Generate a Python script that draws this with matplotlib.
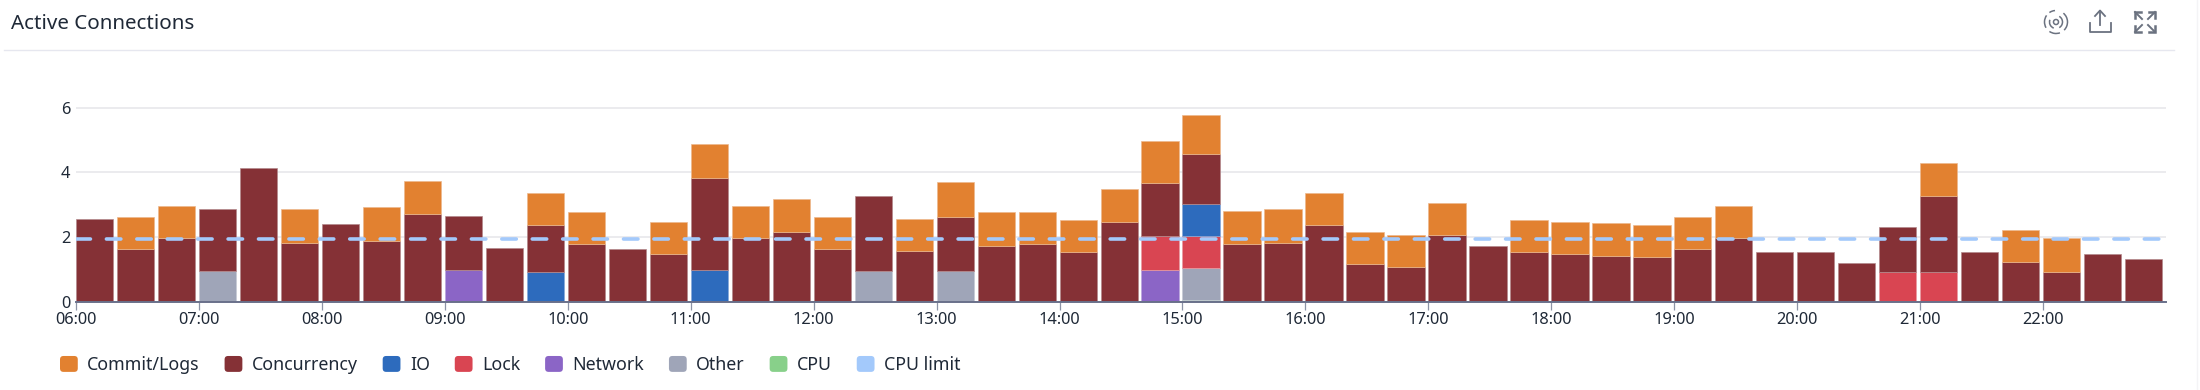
import matplotlib
matplotlib.use("Agg")
import matplotlib.pyplot as plt
from matplotlib.patches import Arc, FancyBboxPatch, Patch
from matplotlib.legend_handler import HandlerPatch
import numpy as np

plt.rcParams['font.family'] = ['Noto Sans', 'DejaVu Sans']
plt.rcParams['lines.scale_dashes'] = False

hour_labels = ["06:00","07:00","08:00","09:00","10:00","11:00","12:00","13:00","14:00",
               "15:00","16:00","17:00","18:00","19:00","20:00","21:00","22:00"]
y_ticks = [0, 2, 4, 6]
cpu_limit = 1.95

cpu = [0]*27 + [0.05] + [0]*23
other = [0,0,0,0.95,0,0,0,0,0,0,0,0,0,0,0,0,0,0,0,0.95,0,0.95,0,0,0,0,0,0.99] + [0]*23
network = [0,0,0,0,0,0,0,0,0,1.0,0,0,0,0,0,0,0,0,0,0,0,0,0,0,0,0,1.0,0] + [0]*23
lock = [0]*26 + [1.03,0.99] + [0]*16 + [0.94,0.94] + [0]*5
io = [0,0,0,0,0,0,0,0,0,0,0,0.94,0,0,0,1.0,0,0,0,0,0,0,0,0,0,0,0,0.98] + [0]*23
# cumulative tops
concurrency_top = [2.57,1.64,1.98,2.87,4.14,1.82,2.42,1.88,2.72,2.66,1.68,2.37,1.78,1.64,1.48,3.83,1.98,
                   2.17,1.64,3.26,1.57,2.62,1.73,1.79,1.53,2.47,3.68,4.57,1.79,1.83,2.38,1.18,1.08,2.07,
                   1.74,1.54,1.48,1.43,1.39,1.64,1.98,1.54,1.54,1.19,2.33,3.26,1.54,1.23,0.94,1.49,1.34]
total_top = [2.57,2.62,2.96,2.87,4.14,2.87,2.42,2.92,3.74,2.66,1.68,3.36,2.77,1.64,2.48,4.88,2.96,
             3.17,2.62,3.26,2.57,3.69,2.77,2.77,2.52,3.50,4.98,5.76,2.82,2.87,3.36,2.17,2.08,3.07,
             1.74,2.52,2.48,2.43,2.38,2.62,2.96,1.54,1.54,1.19,2.33,4.28,1.54,2.23,1.99,1.49,1.34]

series_names = ["CPU","Other","Network","Lock","IO","Concurrency","Commit/Logs"]
colors = {"Commit/Logs":"#E28130","Concurrency":"#853136","IO":"#2D6BBD","Lock":"#D94552",
          "Network":"#8B65C6","Other":"#9FA5B8","CPU":"#88D08A","CPU limit":"#A3C9FB"}
edges = {"Commit/Logs":"#EDB98E","Concurrency":"#B48A8D","IO":"#87A9D9","Lock":"#E99AA1",
         "Network":"#BBA5DD","Other":"#C6CAD5","CPU":"#B9E3BA"}
legend_order = ["Commit/Logs","Concurrency","IO","Lock","Network","Other","CPU","CPU limit"]
ink = "#1F2937"
W, H = 2200, 390

fig = plt.figure(figsize=(22, 3.9), dpi=100, facecolor="white")
x0, x1, y0, ytop = 76, 2166, 302, 60
ax = fig.add_axes([x0/W, 1-y0/H, (x1-x0)/W, (y0-ytop)/H])
ax.set_facecolor("none")

n = len(total_top)
step = 1/3
x = 6 + np.arange(n)*step
width = 0.303
cpu_a, other_a, net_a, lock_a, io_a = map(np.array, (cpu, other, network, lock, io))
conc = np.array(concurrency_top)
total = np.array(total_top)
base_below = cpu_a + other_a + net_a + lock_a + io_a
values = {"CPU":cpu_a,"Other":other_a,"Network":net_a,"Lock":lock_a,"IO":io_a,
          "Concurrency":conc-base_below,"Commit/Logs":total-conc}
bottom = np.zeros(n)
for name in series_names:
    v = values[name]
    mask = v > 0
    ax.bar(x[mask], v[mask], width=width, bottom=bottom[mask], align="edge",
           color=colors[name], edgecolor=edges[name], linewidth=0.5, zorder=3)
    bottom = bottom + v

limit_line = ax.axhline(cpu_limit, color=colors["CPU limit"], lw=2.6, dash_capstyle="round", zorder=4)
limit_line.set_dashes((10.4, 11.5))

ax.set_xlim(6, 23)
ax.set_ylim(0, (y0-ytop)/32.4)
ax.set_yticks(y_ticks)
ax.set_xticks(np.arange(6, 23))
ax.set_xticklabels(hour_labels)
ax.tick_params(axis="y", length=0, pad=4, labelsize=11.8, labelcolor=ink)
ax.tick_params(axis="x", length=6, width=0.9, color="#8C93A6", pad=1, labelsize=11.8, labelcolor=ink)
ax.grid(axis="y", color="#E6E6EA", lw=1.1, zorder=0)
ax.set_axisbelow(True)
for s in ("top","left","right"):
    ax.spines[s].set_visible(False)
ax.spines["bottom"].set_color("#69708A")
ax.spines["bottom"].set_linewidth(1.4)
ax.spines["bottom"].set_zorder(5)

class RoundHandler(HandlerPatch):
    def create_artists(self, legend, orig, xd, yd, w, h, fs, trans):
        p = FancyBboxPatch((-xd+1, -yd+1), w-2, h-2, boxstyle="round,pad=1,rounding_size=2.5",
                           fc=orig.get_facecolor(), ec="none", transform=trans)
        return [p]

handles = [Patch(color=colors[k], label=k) for k in legend_order]
fig.legend(handles=handles, ncols=8, frameon=False,
           handler_map={Patch: RoundHandler()},
           loc="center left", bbox_to_anchor=(60/W, 1-365/H), bbox_transform=fig.transFigure,
           fontsize=12.8, labelcolor=ink, borderpad=0, borderaxespad=0,
           handlelength=1.0, handleheight=1.0, handletextpad=0.53, columnspacing=1.4)

# page furniture in pixel coordinates
ov = fig.add_axes([0, 0, 1, 1], zorder=10)
ov.set_xlim(0, W); ov.set_ylim(H, 0); ov.axis("off"); ov.patch.set_alpha(0)
ov.text(11, 24, "Active Connections", fontsize=14.8, color=ink, va="center", ha="left")
ov.plot([4, 2174], [50, 50], color="#E6E7EF", lw=1)
ov.plot([2197, 2197], [0, 390], color="#F4F4F6", lw=1)
ic = "#6B7280"
# share icon
ov.plot([2089.5,2089.5,2110.5,2110.5],[23,32,32,23], color=ic, lw=1.3)
ov.plot([2100,2100],[11,25], color=ic, lw=1.3)
ov.plot([2095,2100,2105],[16,10.5,16], color=ic, lw=1.3)
# expand icon
for sx in (-1, 1):
    for sy in (-1, 1):
        cx, cy = 2145+sx*10, 22+sy*10
        ov.plot([cx, 2145+sx*3],[cy, 22+sy*3], color=ic, lw=1.4)
        ov.plot([cx, cx, cx-sx*6],[cy-sy*6, cy, cy], color=ic, lw=1.8, solid_joinstyle="miter")
# radar icon: broken concentric arcs
for r, spans in [(23, [(-50, 45), (70, 125), (150, 215), (235, 265)]),
                 (13, [(-60, 60), (110, 200)]),
                 (5, [(0, 360)])]:
    for a, b in spans:
        ov.add_patch(Arc((2056, 22), r, r, theta1=a, theta2=b, color=ic, lw=1.1))

fig.savefig("out.png", dpi=100, facecolor="white")
